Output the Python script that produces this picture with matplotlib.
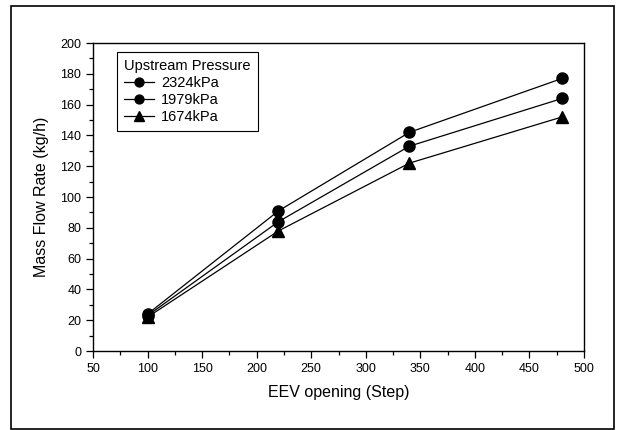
import matplotlib
matplotlib.use("Agg")
import matplotlib.pyplot as plt
from matplotlib.patches import Rectangle
from matplotlib.ticker import MultipleLocator

plt.rcParams['font.family'] = ['Liberation Sans', 'DejaVu Sans']

# EEV opening steps and measured mass flow rates (kg/h)
steps = [100, 220, 340, 480]
flow_2324 = [24, 91, 142, 177]
flow_1979 = [23, 84, 133, 164]
flow_1674 = [22, 78, 122, 152]
series_labels = ['2324kPa', '1979kPa', '1674kPa']

fig = plt.figure(figsize=(6.18, 4.30), dpi=100)
ax = fig.add_axes([0.1505, 0.1837, 0.7945, 0.7163])

ax.plot(steps, flow_2324, color='black', lw=0.9, marker='o', ms=8,
        label=series_labels[0])
ax.plot(steps, flow_1979, color='black', lw=0.9, marker='o', ms=8,
        label=series_labels[1])
ax.plot(steps, flow_1674, color='black', lw=0.9, marker='^', ms=8.5,
        label=series_labels[2])

ax.set_xlim(50, 500)
ax.set_ylim(0, 200)
ax.xaxis.set_major_locator(MultipleLocator(50))
ax.xaxis.set_minor_locator(MultipleLocator(25))
ax.yaxis.set_major_locator(MultipleLocator(20))
ax.yaxis.set_minor_locator(MultipleLocator(10))
ax.tick_params(which='both', direction='out', top=False, right=False,
               labelsize=9, width=0.9, colors='black')
ax.tick_params(which='major', length=5)
ax.tick_params(which='minor', length=3)
for sp in ax.spines.values():
    sp.set_linewidth(1.0)
    sp.set_color('black')

ax.set_xlabel('EEV opening (Step)', fontsize=11.5, labelpad=7)
ax.set_ylabel('Mass Flow Rate (kg/h)', fontsize=11.5, labelpad=8)

leg = ax.legend(title='Upstream Pressure', loc='upper left',
                bbox_to_anchor=(0.049, 0.971), borderaxespad=0,
                fontsize=10.5, title_fontsize=10.5, fancybox=False,
                edgecolor='black', framealpha=1, handlelength=2.0,
                handletextpad=0.5, labelspacing=0.2, borderpad=0.5,
                markerscale=0.8, alignment='left')
leg.get_frame().set_linewidth(0.8)

# border around the whole figure
fig.patches.append(Rectangle((0.0178, 0.0023), 0.9757, 0.9837,
                             transform=fig.transFigure, fill=False,
                             edgecolor='black', lw=1.2))

fig.savefig('out.png', dpi=100)
